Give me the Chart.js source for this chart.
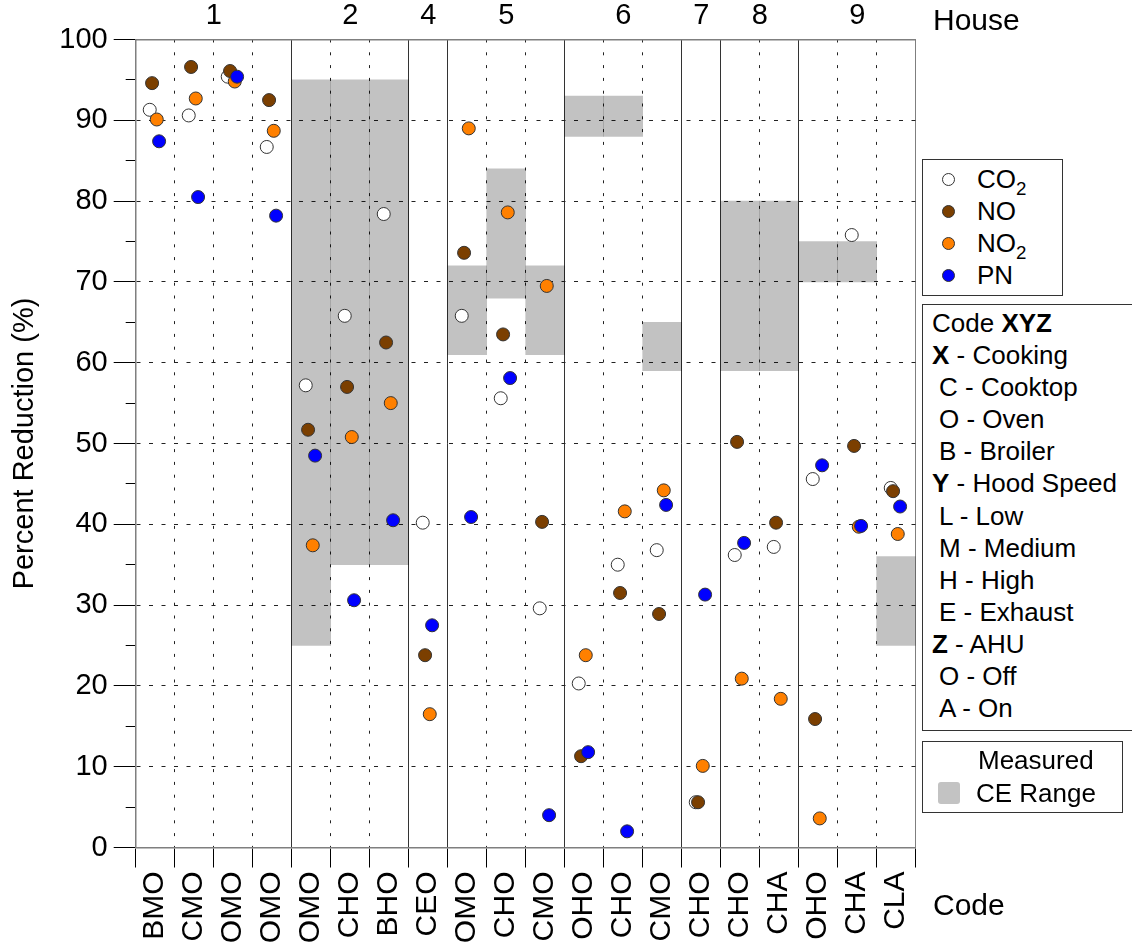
<!DOCTYPE html>
<html>
<head>
<meta charset="utf-8">
<title>Percent Reduction by House and Code</title>
<script src="https://cdn.jsdelivr.net/npm/chart.js@4.4.0/dist/chart.umd.min.js"></script>
<style>
  body { margin: 0; background: #fff; font-family: "Liberation Sans", Arial, sans-serif; color: #000; }
  #wrap { position: relative; width: 1132px; height: 951px; overflow: hidden; }
  #chart { position: absolute; left: 0; top: 0; }
  .box { position: absolute; border: 1px solid #333; background: #fff; box-sizing: border-box; font-size: 26px; }
  .row { position: relative; height: 32.1px; line-height: 32.1px; white-space: nowrap; }
  .dot { position: absolute; left: 19px; top: 9.5px; width: 11px; height: 11px; border-radius: 50%; border: 1px solid #333; }
  sub { font-size: 0.72em; vertical-align: -0.35em; line-height: 0; }
  .lbl { position: absolute; font-size: 30px; height: 36px; line-height: 36px; white-space: nowrap; }
</style>
</head>
<body>
<div id="wrap">
  <canvas id="chart" width="1132" height="951"></canvas>
  <div class="lbl" style="left:933px; top:2px;">House</div>
  <div class="lbl" style="left:933px; top:887px;">Code</div>
  <div class="box" id="seriesLegend" style="left:922px; top:159px; width:141px; height:137px; padding-top:3px;"></div>
  <div class="box" id="codeLegend" style="left:922px; top:304px; width:230px; height:427px; padding-top:2px;"></div>
  <div class="box" style="left:922px; top:741px; width:201px; height:72px;">
    <div class="row" style="position:absolute; left:55px; top:2px;">Measured</div>
    <div style="position:absolute; left:15px; top:40px; width:22px; height:22px; border-radius:3px; background:#c3c3c3;"></div>
    <div class="row" style="position:absolute; left:53px; top:35px;">CE Range</div>
  </div>
</div>
<script>
// categories (x axis codes) and the houses they belong to
var codes = ['BMO', 'CMO', 'OMO', 'OMO', 'OMO', 'CHO', 'BHO', 'CEO', 'OMO', 'CHO',
             'CMO', 'OHO', 'CHO', 'CMO', 'CHO', 'CHO', 'CHA', 'OHO', 'CHA', 'CLA'];
var houses = ['1', '2', '4', '5', '6', '7', '8', '9'];
var houseSizes = [4, 3, 1, 3, 3, 1, 2, 3];

// percent reduction per pollutant
var co2 = [91.3, 90.6, 95.4, 86.7, 57.2, 65.8, 78.4, 40.2, 65.8, 55.6, 29.6, 20.3, 35.0, 36.8, 5.6, 36.2, 37.2, 45.6, 75.8, 44.5];
var no  = [94.6, 96.6, 96.1, 92.5, 51.7, 57.0, 62.5, 23.8, 73.6, 63.5, 40.3, 11.3, 31.5, 28.9, 5.6, 50.2, 40.2, 15.9, 49.7, 44.1];
var no2 = [90.1, 92.7, 94.8, 88.7, 37.4, 50.8, 55.0, 16.5, 89.0, 78.6, 69.5, 23.8, 41.6, 44.2, 10.1, 20.9, 18.4, 3.6, 39.7, 38.8];
var pn  = [87.4, 80.5, 95.4, 78.2, 48.5, 30.6, 40.5, 27.5, 40.9, 58.1, 4.0, 11.8, 2.0, 42.4, 31.3, 37.7, null, 47.3, 39.8, 42.2];

// measured capture efficiency range
var ceLow  = [null, null, null, null, 25, 35, 35, null, 61, 68, 61, 88, 88, 59, null, 59, 59, 70, 70, 25];
var ceHigh = [null, null, null, null, 95, 95, 95, null, 72, 84, 72, 93, 93, 65, null, 80, 80, 75, 75, 36];

var seriesNames = ['CO<sub>2</sub>', 'NO', 'NO<sub>2</sub>', 'PN'];
var seriesColors = ['#ffffff', '#7b3f00', '#ff8000', '#0000ff'];
var seriesShift = [-0.14, -0.08, 0.04, 0.10];

var codeGroups = [
    { letter: 'X', name: 'Cooking', items: ['C - Cooktop', 'O - Oven', 'B - Broiler'] },
    { letter: 'Y', name: 'Hood Speed', items: ['L - Low', 'M - Medium', 'H - High', 'E - Exhaust'] },
    { letter: 'Z', name: 'AHU', items: ['O - Off', 'A - On'] }
];

// house centres and separators
var houseCenters = [], houseEdges = [], pos = 0;
houses.forEach(function (h, i) {
    houseCenters.push(pos + houseSizes[i] / 2);
    pos += houseSizes[i];
    houseEdges.push(pos);
});

function points(values, shift) {
    return values.map(function (v, i) {
        return { x: i + 0.5 + shift, y: v };
    });
}

var datasets = [co2, no, no2, pn].map(function (vals, k) {
    return {
        type: 'scatter',
        label: seriesNames[k].replace(/<\/?sub>/g, ''),
        data: points(vals, seriesShift[k]),
        xAxisID: 'xl',
        yAxisID: 'y',
        pointRadius: 6.5,
        pointHoverRadius: 6.5,
        pointBorderWidth: 1,
        pointBorderColor: '#333',
        pointBackgroundColor: seriesColors[k],
        order: 4 - k
    };
});

datasets.push({
    type: 'bar',
    label: 'CE Range',
    data: ceLow.map(function (lo, i) { return lo === null ? null : [lo, ceHigh[i]]; }),
    xAxisID: 'x',
    yAxisID: 'y',
    backgroundColor: 'rgba(0,0,0,0.24)',
    borderWidth: 0,
    grouped: false,
    barPercentage: 1,
    categoryPercentage: 1,
    order: 10
});

Chart.defaults.font.family = '"Liberation Sans", Arial, sans-serif';
Chart.defaults.color = '#000';

new Chart(document.getElementById('chart'), {
    type: 'bar',
    data: { labels: codes, datasets: datasets },
    options: {
        responsive: false,
        animation: false,
        devicePixelRatio: 1,
        layout: { padding: { left: 0, right: 216.3, top: 0, bottom: 0 } },
        plugins: { legend: { display: false }, tooltip: { enabled: false } },
        scales: {
            x: {
                type: 'category',
                position: 'bottom',
                weight: 1,
                offset: true,
                grid: { display: false, drawTicks: false },
                border: { display: false },
                ticks: { autoSkip: false, minRotation: 90, maxRotation: 90, padding: 4, font: { size: 30 } },
                afterFit: function (s) { s.height = 83.5; }
            },
            xl: {
                type: 'linear',
                position: 'bottom',
                weight: 0,
                min: 0,
                max: 20,
                offset: false,
                ticks: { display: false, stepSize: 1, maxTicksLimit: 100 },
                grid: {
                    offset: false,
                    tickLength: 20,
                    tickColor: '#000',
                    lineWidth: 1,
                    color: function (ctx) {
                        if (!ctx.tick) return '#222';
                        var v = ctx.tick.value;
                        if (v === 0 || v === 20) return '#7f7f7f';
                        return houseEdges.indexOf(v) >= 0 ? '#333' : '#222';
                    }
                },
                border: {
                    color: '#7f7f7f',
                    width: 1.5,
                    dash: function (ctx) {
                        if (!ctx.tick) return [];
                        var v = ctx.tick.value;
                        return (v === 0 || v === 20 || houseEdges.indexOf(v) >= 0) ? [] : [3, 9.8];
                    }
                },
                afterFit: function (s) { s.height = 20; }
            },
            xt: {
                type: 'linear',
                position: 'top',
                min: 0,
                max: 20,
                offset: false,
                afterBuildTicks: function (s) {
                    s.ticks = houseCenters.map(function (v) { return { value: v }; });
                },
                ticks: {
                    autoSkip: false,
                    maxRotation: 0,
                    padding: 6,
                    font: { size: 29 },
                    callback: function (v, i) { return houses[i]; }
                },
                grid: { display: false, drawTicks: false, offset: false },
                border: { display: true, color: '#7f7f7f', width: 1.5 },
                afterFit: function (s) { s.height = 39.5; }
            },
            y: {
                min: 0,
                max: 100,
                ticks: {
                    stepSize: 5,
                    autoSkip: false,
                    padding: 6,
                    font: { size: 29 },
                    callback: function (v) { return v % 10 === 0 ? v : ''; }
                },
                grid: {
                    tickLength: 22,
                    tickColor: '#000',
                    color: function (ctx) {
                        if (!ctx.tick) return 'rgba(0,0,0,0)';
                        var v = ctx.tick.value;
                        return (v % 10 === 0 && v > 0 && v < 100) ? '#222' : 'rgba(0,0,0,0)';
                    },
                    tickBorderDash: function (ctx) {
                        if (!ctx.tick) return [];
                        return ctx.tick.value % 10 === 0 ? [] : [0, 12, 10, 40];
                    }
                },
                border: { color: '#7f7f7f', width: 1.5, dash: [4, 8.5] },
                title: {
                    display: true,
                    text: 'Percent Reduction (%)',
                    font: { size: 29 },
                    padding: { top: 8, bottom: 0 }
                },
                afterFit: function (s) { s.width = 135.7; }
            }
        }
    }
});

// series legend
var sl = document.getElementById('seriesLegend');
seriesNames.forEach(function (name, k) {
    var row = document.createElement('div');
    row.className = 'row';
    row.innerHTML = '<span class="dot" style="background:' + seriesColors[k] + '"></span>' +
        '<span style="position:absolute; left:54px;">' + name + '</span>';
    sl.appendChild(row);
});

// code legend
var cl = document.getElementById('codeLegend');
function addRow(html, indent) {
    var row = document.createElement('div');
    row.className = 'row';
    row.style.paddingLeft = (indent ? 16 : 9) + 'px';
    row.innerHTML = html;
    cl.appendChild(row);
}
addRow('Code <b>XYZ</b>', false);
codeGroups.forEach(function (g) {
    addRow('<b>' + g.letter + '</b> - ' + g.name, false);
    g.items.forEach(function (it) { addRow(it, true); });
});
</script>
</body>
</html>
